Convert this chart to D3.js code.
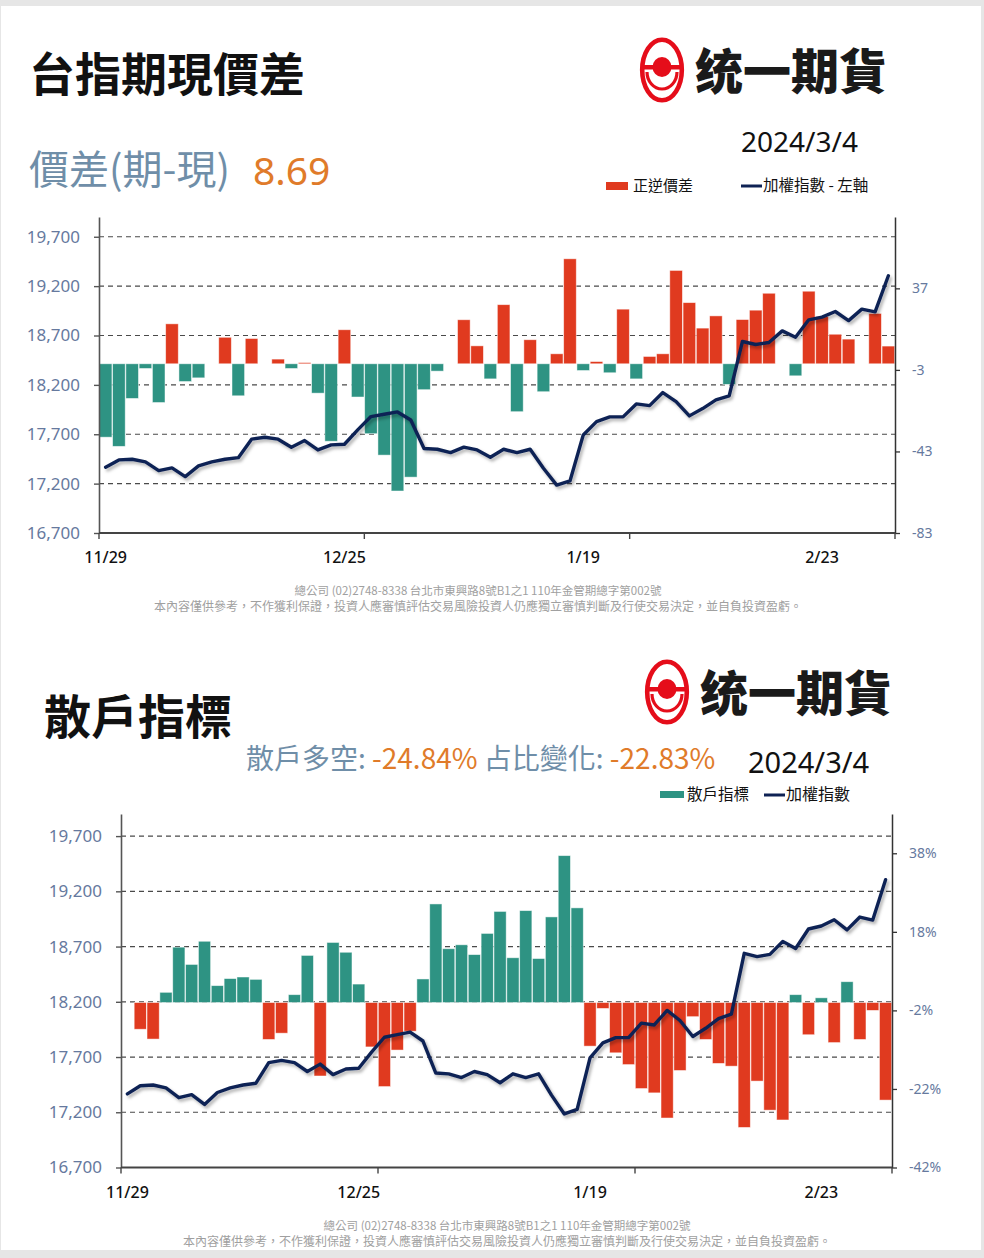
<!DOCTYPE html>
<html lang="zh-Hant">
<head>
<meta charset="UTF-8">
<title>台指期現價差 / 散戶指標</title>
<script src="https://d3js.org/d3.v7.min.js"></script>
<style>
  html, body { margin: 0; padding: 0; background: #e6e6e6; }
  svg { display: block; }
</style>
</head>
<body>
<svg id="chart"></svg>
<script>
// trading days 2023/11/29 - 2024/3/4
const dates = [
  "11/29","11/30","12/1","12/4","12/5","12/6","12/7","12/8","12/11","12/12",
  "12/13","12/14","12/15","12/18","12/19","12/20","12/21","12/22","12/25","12/26",
  "12/27","12/28","12/29","1/2","1/3","1/4","1/5","1/8","1/9","1/10",
  "1/11","1/12","1/15","1/16","1/17","1/18","1/19","1/22","1/23","1/24",
  "1/25","1/26","1/29","1/30","1/31","2/1","2/2","2/5","2/15","2/16",
  "2/19","2/20","2/21","2/22","2/23","2/26","2/27","2/29","3/1","3/4"
];

// 加權指數
const taiex = [
  17366, 17440, 17447, 17420, 17332, 17359, 17271, 17379, 17420, 17447,
  17463, 17650, 17670, 17650, 17569, 17636, 17541, 17592, 17599, 17744,
  17879, 17903, 17926, 17845, 17555, 17548, 17514, 17569, 17541, 17467,
  17548, 17514, 17548, 17355, 17185, 17227, 17693, 17828, 17876, 17876,
  18007, 17990, 18122, 18031, 17886, 17960, 18048, 18088, 18639, 18609,
  18629, 18747, 18683, 18859, 18886, 18943, 18851, 18967, 18940, 19305
];

// 正逆價差
const basis = [
  -36, -40.5, -17, -2.3, -19, 19.6, -8.7, -6.9, 0, 13,
  -15.7, 12.4, 0, 2.3, -2.3, 0.6, -14.4, -38, 16.7, -16.3,
  -34.3, -44.8, -62.4, -55.6, -12.7, -3.6, 0, 21.6, 8.8, -7.4,
  29, -23.5, 11.8, -13.7, 4.9, 51.5, -3.3, 1.1, -4.4, 26.8,
  -7.4, 3.6, 4.9, 45.8, 30, 17.5, 23.5, -10.1, 21.7, 26.3,
  34.6, 0, -5.9, 35.6, 23.2, 14.5, 12.1, 0, 24.7, 8.69
];

// 散戶指標 (%)
const retail = [
  0, -6.8, -9.3, 2.6, 14.1, 9.7, 15.6, 4.3, 6.1, 6.5,
  5.9, -9.4, -7.8, 2.0, 12.0, -18.7, 15.3, 12.8, 4.7, -11.3,
  -21.4, -12.1, -7.3, 6.0, 25.1, 13.7, 14.7, 12.2, 17.6, 23.2,
  11.4, 23.4, 11.2, 21.8, 37.4, 24.1, -11.1, -1.5, -12.8, -15.8,
  -21.9, -23.0, -29.4, -17.3, -3.6, -9.4, -15.5, -16.2, -31.8, -20.0,
  -27.4, -29.9, 2.0, -8.2, 1.2, -10.2, 5.3, -9.4, -2.0, -24.84
];

const xLabels = ["11/29", "12/25", "1/19", "2/23"];
const xTickEvery = 20;
const indexTicks = [16700, 17200, 17700, 18200, 18700, 19200, 19700];
const basisTicks = [-83, -43, -3, 37];
const retailTicks = [-42, -22, -2, 18, 38];
const shareChange = -22.83;

const footer1 = "總公司 (02)2748-8338 台北市東興路8號B1之1 110年金管期總字第002號";
const footer2 = "本內容僅供參考，不作獲利保證，投資人應審慎評估交易風險投資人仍應獨立審慎判斷及行使交易決定，並自負投資盈虧。";

const RED = "#e03a1f", TEAL = "#2e9383", NAVY = "#0e2254", LOGO_RED = "#e50d1a";
const BLUEGRAY = "#6f8ea8", ORANGE = "#e07b2a", TICK = "#66799e";
const cjk = "'Noto Sans CJK TC', 'Noto Sans', sans-serif";
const latin = "'Noto Sans', 'DejaVu Sans', sans-serif";

const width = 984, height = 1258;
const svg = d3.select("#chart").attr("width", width).attr("height", height);

const defs = svg.append("defs");
defs.append("filter").attr("id", "shadow")
  .attr("x", "-5%").attr("y", "-10%").attr("width", "110%").attr("height", "130%")
  .append("feDropShadow")
  .attr("dx", 2).attr("dy", 2.5).attr("stdDeviation", 1.4)
  .attr("flood-color", "#000").attr("flood-opacity", 0.3);

svg.append("rect").attr("width", width).attr("height", height).attr("fill", "#e6e6e6");
svg.append("rect").attr("x", 1).attr("y", 6).attr("width", 980).attr("height", 1244).attr("fill", "#fff");

function drawLogo(cx, cy) {
  const g = svg.append("g");
  g.append("ellipse").attr("cx", cx).attr("cy", cy).attr("rx", 19.8).attr("ry", 30.3)
    .attr("fill", "none").attr("stroke", LOGO_RED).attr("stroke-width", 4.6);
  g.append("rect").attr("x", cx - 19).attr("y", cy - 5).attr("width", 38).attr("height", 4.5)
    .attr("fill", LOGO_RED);
  g.append("ellipse").attr("cx", cx).attr("cy", cy - 3).attr("rx", 9.5).attr("ry", 10)
    .attr("fill", LOGO_RED);
  g.append("path")
    .attr("d", `M${cx - 15},${cy + 2} A15,17 0 0 0 ${cx + 15},${cy + 2}`)
    .attr("fill", "none").attr("stroke", LOGO_RED).attr("stroke-width", 3.2);
  g.append("text").attr("x", cx + 33).attr("y", cy + 19)
    .attr("font-family", cjk).attr("font-weight", 900).attr("font-size", 48)
    .attr("fill", "#1a1a1a").text("统一期貨");
}

function drawPanel(p) {
  const g = svg.append("g");

  const x = d3.scaleBand().domain(dates).range([p.left, p.right])
    .paddingInner(0.05).paddingOuter(0.025);
  const bw = x.bandwidth();
  const yL = d3.scaleLinear().domain([16700, 19900]).range([p.bottom, p.top]);
  const yR = d3.scaleLinear().domain(p.rDomain).range([p.bottom, p.top]);

  // gridlines
  g.append("g").selectAll("line")
    .data(indexTicks.filter(d => d > 16700))
    .enter().append("line")
    .attr("x1", p.left).attr("x2", p.right)
    .attr("y1", d => yL(d)).attr("y2", d => yL(d))
    .attr("stroke", "#4a4a4a").attr("stroke-width", 1.2)
    .attr("stroke-dasharray", "5,4");

  // bars
  g.append("g").selectAll("rect")
    .data(p.bars)
    .enter().append("rect")
    .attr("x", (d, i) => x(dates[i]))
    .attr("width", bw)
    .attr("y", d => yR(Math.max(0, d)))
    .attr("height", d => Math.abs(yR(0) - yR(d)))
    .attr("fill", d => d >= 0 ? p.posColor : p.negColor)
    .attr("stroke", "#fff").attr("stroke-opacity", 0.6).attr("stroke-width", 0.8);

  // index line
  const line = d3.line()
    .x((d, i) => x(dates[i]) + bw / 2)
    .y(d => yL(d));
  g.append("path").datum(taiex)
    .attr("d", line)
    .attr("fill", "none").attr("stroke", NAVY).attr("stroke-width", 3.4)
    .attr("stroke-linejoin", "round").attr("stroke-linecap", "round")
    .attr("filter", "url(#shadow)");

  // left axis
  const axL = g.append("g").attr("transform", `translate(${p.left},0)`)
    .call(d3.axisLeft(yL).tickValues(indexTicks).tickSize(5).tickSizeOuter(0)
      .tickPadding(14).tickFormat(d3.format(",")));
  axL.select(".domain").attr("stroke", "#555").attr("stroke-width", 1.6);
  axL.selectAll(".tick line").attr("stroke", "#555").attr("stroke-width", 1.4);
  axL.selectAll(".tick text").attr("font-family", latin).attr("font-size", 17).attr("fill", TICK);

  // right axis
  const axR = g.append("g").attr("transform", `translate(${p.right},0)`)
    .call(d3.axisRight(yR).tickValues(p.rTicks).tickSize(5).tickSizeOuter(0)
      .tickPadding(12).tickFormat(p.rFormat));
  axR.select(".domain").attr("stroke", "#333").attr("stroke-width", 1.5);
  axR.selectAll(".tick line").attr("stroke", "#333").attr("stroke-width", 1.3);
  axR.selectAll(".tick text").attr("font-family", latin).attr("font-size", 14).attr("fill", TICK);

  // category axis
  g.append("line")
    .attr("x1", p.left).attr("x2", p.right)
    .attr("y1", p.bottom).attr("y2", p.bottom)
    .attr("stroke", "#444").attr("stroke-width", 2);
  const tickIdx = d3.range(0, dates.length + 1, xTickEvery);
  g.append("g").selectAll("line")
    .data(tickIdx)
    .enter().append("line")
    .attr("x1", d => x.range()[0] + d * x.step())
    .attr("x2", d => x.range()[0] + d * x.step())
    .attr("y1", p.bottom).attr("y2", p.bottom + 6)
    .attr("stroke", "#444").attr("stroke-width", 1.4);
  g.append("g").selectAll("text")
    .data(xLabels)
    .enter().append("text")
    .attr("x", d => x(d) + bw / 2)
    .attr("y", p.bottom + 30)
    .attr("text-anchor", "middle")
    .attr("font-family", latin).attr("font-weight", 500).attr("font-size", 16)
    .attr("fill", "#111")
    .text(d => d);

  // footer
  g.append("text").attr("x", p.footX).attr("y", p.bottom + 62)
    .attr("text-anchor", "middle").attr("font-family", cjk).attr("font-size", 11.5)
    .attr("fill", "#a0a0a0").text(footer1);
  g.append("text").attr("x", p.footX).attr("y", p.bottom + 78)
    .attr("text-anchor", "middle").attr("font-family", cjk).attr("font-size", 12)
    .attr("fill", "#a0a0a0").text(footer2);
}

// ---------- 台指期現價差 ----------
svg.append("text").attr("x", 29).attr("y", 91)
  .attr("font-family", cjk).attr("font-weight", 700).attr("font-size", 46)
  .attr("fill", "#111").text("台指期現價差");
drawLogo(662, 70);

svg.append("text").attr("x", 29).attr("y", 184)
  .attr("font-family", cjk).attr("font-size", 40)
  .attr("fill", BLUEGRAY).text("價差(期-現)");
svg.append("text").attr("x", 253).attr("y", 185)
  .attr("font-family", latin).attr("font-size", 39)
  .attr("fill", ORANGE).text(basis[basis.length - 1].toFixed(2));
svg.append("text").attr("x", 741).attr("y", 152)
  .attr("font-family", latin).attr("font-size", 28)
  .attr("fill", "#111").text("2024/3/4");

svg.append("rect").attr("x", 606).attr("y", 182).attr("width", 22).attr("height", 8).attr("fill", RED);
svg.append("text").attr("x", 633).attr("y", 191)
  .attr("font-family", cjk).attr("font-size", 15).attr("fill", "#111").text("正逆價差");
svg.append("line").attr("x1", 741).attr("x2", 762).attr("y1", 186).attr("y2", 186)
  .attr("stroke", NAVY).attr("stroke-width", 3);
svg.append("text").attr("x", 763).attr("y", 191)
  .attr("font-family", cjk).attr("font-size", 15.5).attr("fill", "#111").text("加權指數 - 左軸");

drawPanel({
  left: 99, right: 895, top: 217, bottom: 533,
  rDomain: [-83, 72], rTicks: basisTicks, rFormat: d => d,
  bars: basis, posColor: RED, negColor: TEAL, footX: 478
});

// ---------- 散戶指標 ----------
svg.append("text").attr("x", 44).attr("y", 734)
  .attr("font-family", cjk).attr("font-weight", 700).attr("font-size", 47)
  .attr("fill", "#111").text("散戶指標");
drawLogo(667, 692);

const sub = svg.append("text").attr("x", 246).attr("y", 769)
  .attr("font-family", cjk).attr("font-size", 28);
sub.append("tspan").attr("fill", BLUEGRAY).text("散戶多空: ");
sub.append("tspan").attr("fill", ORANGE).text(retail[retail.length - 1].toFixed(2) + "%");
sub.append("tspan").attr("fill", BLUEGRAY).text(" 占比變化: ");
sub.append("tspan").attr("fill", ORANGE).text(shareChange.toFixed(2) + "%");
svg.append("text").attr("x", 748).attr("y", 773)
  .attr("font-family", latin).attr("font-size", 29)
  .attr("fill", "#111").text("2024/3/4");

svg.append("rect").attr("x", 660).attr("y", 791).attr("width", 24).attr("height", 7).attr("fill", TEAL);
svg.append("text").attr("x", 687).attr("y", 800)
  .attr("font-family", cjk).attr("font-size", 15.5).attr("fill", "#111").text("散戶指標");
svg.append("line").attr("x1", 764).attr("x2", 785).attr("y1", 795).attr("y2", 795)
  .attr("stroke", NAVY).attr("stroke-width", 3);
svg.append("text").attr("x", 786).attr("y", 800)
  .attr("font-family", cjk).attr("font-size", 16).attr("fill", "#111").text("加權指數");

drawPanel({
  left: 121, right: 892, top: 814, bottom: 1167.5,
  rDomain: [-42, 48], rTicks: retailTicks, rFormat: d => d + "%",
  bars: retail, posColor: TEAL, negColor: RED, footX: 507
});
</script>
</body>
</html>
